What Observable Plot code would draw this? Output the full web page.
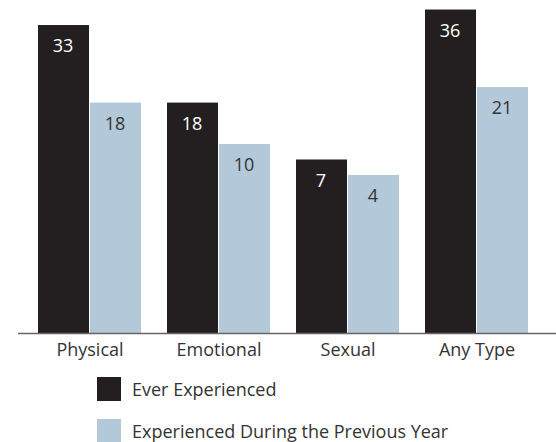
<!DOCTYPE html>
<html>
<head>
<meta charset="utf-8">
<script src="https://cdn.jsdelivr.net/npm/d3@7"></script>
<script src="https://cdn.jsdelivr.net/npm/@observablehq/plot@0.6"></script>
<style>
  html, body { margin: 0; padding: 0; background: #fff; }
  body { width: 556px; height: 442px; overflow: hidden; font-family: "Open Sans", Lato, sans-serif; }
  #chart svg { display: block; }
  .legend { margin: 12px 0 0 97px; }
  .row { display: flex; align-items: center; height: 24px; margin-bottom: 18px; }
  .sw { width: 24px; height: 24px; margin-right: 11px; flex: none; }
  .lbl { font-size: 18px; color: #333; white-space: nowrap; }
</style>
</head>
<body>
<div id="chart"></div>
<div class="legend" id="legend"></div>
<script>
const categories = ["Physical", "Emotional", "Sexual", "Any Type"];
const everExperienced = [33, 18, 7, 36];
const previousYear = [18, 10, 4, 21];
const seriesNames = ["Ever Experienced", "Experienced During the Previous Year"];
const seriesColors = ["#231f20", "#b3c8d8"];
const yDomain = [-26.55, 37.84];

const data = categories.map((c, i) => ({cat: c, ever: everExperienced[i], prev: previousYear[i]}));
const base = yDomain[0];

const chart = Plot.plot({
  width: 556,
  height: 365,
  marginTop: 0,
  marginLeft: 18,
  marginRight: 0,
  marginBottom: 32,
  style: {fontFamily: "'Open Sans', Lato, sans-serif", background: "#fff"},
  x: {domain: categories, range: [18, 548], paddingInner: 0.2, paddingOuter: 0.1385, label: null},
  y: {domain: yDomain, axis: null},
  marks: [
    Plot.barY(data, {x: "cat", y1: base, y2: "ever", fill: seriesColors[0], insetRight: 52}),
    Plot.barY(data, {x: "cat", y1: base, y2: "prev", fill: seriesColors[1], insetLeft: 52}),
    Plot.text(data, {x: "cat", y: "ever", text: "ever", dx: -27, dy: 21, fill: "#fff", fontSize: 18, lineAnchor: "middle"}),
    Plot.text(data, {x: "cat", y: "prev", text: "prev", dx: 25, dy: 21, fill: "#333", fontSize: 18, lineAnchor: "middle"}),
    Plot.ruleY([base], {stroke: "#666", strokeWidth: 1.5}),
    Plot.axisX({tickSize: 0, tickPadding: 10, fontSize: 18, fill: "#333", label: null})
  ]
});
document.getElementById("chart").appendChild(chart);

const legend = document.getElementById("legend");
seriesNames.forEach((n, i) => {
  const row = document.createElement("div");
  row.className = "row";
  const sw = document.createElement("div");
  sw.className = "sw";
  sw.style.background = seriesColors[i];
  const lbl = document.createElement("div");
  lbl.className = "lbl";
  lbl.textContent = n;
  row.appendChild(sw);
  row.appendChild(lbl);
  legend.appendChild(row);
});
</script>
</body>
</html>
